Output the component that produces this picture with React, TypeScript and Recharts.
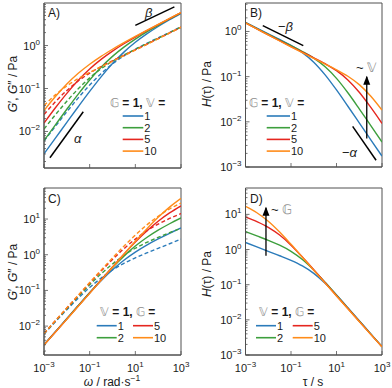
import type { ReactNode } from "react";
import { Line, LineChart, ReferenceArea, ReferenceDot, ReferenceLine, XAxis, YAxis } from "recharts";

const FONT = '"Liberation Sans", Arial, Helvetica, sans-serif';
const INK = "#1a1a1a";
const AXIS = "#505050";
const HOLLOW = "#8c8c8c";
const COLORS = ["#2b7bba", "#3d9f3d", "#e5261f", "#ff8c1a"];

// log10 of angular frequency (A, C) and relaxation time (B, D)
const decades = [-3, -2.5, -2, -1.5, -1, -0.5, 0, 0.5, 1, 1.5, 2, 2.5, 3];
const levels = ["1", "2", "5", "10"];

// A) log10 G' and G'' for G = 1, V = 1, 2, 5, 10
const aStorageV1 = [-2.52, -2.155, -1.789, -1.424, -1.067, -0.728, -0.42, -0.153, 0.075, 0.27, 0.443, 0.601, 0.749];
const aStorageV2 = [-2.212, -1.846, -1.483, -1.13, -0.801, -0.506, -0.252, -0.037, 0.15, 0.317, 0.471, 0.618, 0.759];
const aStorageV5 = [-1.805, -1.449, -1.113, -0.809, -0.546, -0.323, -0.13, 0.041, 0.197, 0.345, 0.488, 0.628, 0.766];
const aStorageV10 = [-1.513, -1.187, -0.896, -0.647, -0.435, -0.251, -0.086, 0.068, 0.214, 0.355, 0.494, 0.631, 0.768];
const aLossV1 = [-2.224, -1.878, -1.541, -1.219, -0.92, -0.654, -0.427, -0.241, -0.087, 0.05, 0.179, 0.307, 0.436];
const aLossV2 = [-1.943, -1.611, -1.296, -1.006, -0.753, -0.541, -0.367, -0.22, -0.087, 0.041, 0.17, 0.299, 0.43];
const aLossV5 = [-1.605, -1.309, -1.047, -0.825, -0.643, -0.491, -0.356, -0.227, -0.099, 0.03, 0.161, 0.293, 0.427];
const aLossV10 = [-1.397, -1.148, -0.94, -0.77, -0.625, -0.493, -0.365, -0.236, -0.106, 0.025, 0.158, 0.292, 0.426];

// B) log10 H(tau) for G = 1, V = 1, 2, 5, 10
const bSpectrumV1 = [0.2, 0.073, -0.053, -0.177, -0.309, -0.468, -0.679, -0.96, -1.294, -1.655, -2.023, -2.392, -2.759];
const bSpectrumV2 = [0.195, 0.064, -0.065, -0.191, -0.316, -0.444, -0.59, -0.781, -1.038, -1.357, -1.712, -2.079, -2.448];
const bSpectrumV5 = [0.191, 0.058, -0.075, -0.205, -0.333, -0.459, -0.583, -0.714, -0.868, -1.073, -1.346, -1.676, -2.035];
const bSpectrumV10 = [0.189, 0.056, -0.078, -0.211, -0.342, -0.471, -0.597, -0.722, -0.849, -0.992, -1.177, -1.427, -1.74];

// C) log10 G' and G'' for V = 1, G = 1, 2, 5, 10
const cStorageG1 = aStorageV1;
const cStorageG2 = [-2.525, -2.162, -1.797, -1.431, -1.065, -0.705, -0.358, -0.039, 0.243, 0.483, 0.689, 0.868, 1.03];
const cStorageG5 = [-2.528, -2.167, -1.805, -1.441, -1.076, -0.71, -0.344, 0.014, 0.355, 0.667, 0.939, 1.171, 1.369];
const cStorageG10 = [-2.529, -2.169, -1.807, -1.445, -1.082, -0.718, -0.352, 0.014, 0.376, 0.724, 1.048, 1.333, 1.578];
const cLossG1 = aLossV1;
const cLossG2 = [-2.214, -1.861, -1.512, -1.172, -0.844, -0.536, -0.258, -0.017, 0.182, 0.345, 0.486, 0.617, 0.745];
const cLossG5 = [-2.207, -1.85, -1.495, -1.143, -0.796, -0.458, -0.134, 0.168, 0.438, 0.669, 0.859, 1.016, 1.154];
const cLossG10 = [-2.205, -1.847, -1.489, -1.133, -0.78, -0.431, -0.089, 0.24, 0.551, 0.833, 1.077, 1.281, 1.447];

// D) log10 H(tau) for V = 1, G = 1, 2, 5, 10
const dSpectrumG1 = bSpectrumV1;
const dSpectrumG2 = [0.512, 0.387, 0.261, 0.123, -0.05, -0.285, -0.586, -0.932, -1.297, -1.667, -2.034, -2.4, -2.764];
const dSpectrumG5 = [0.927, 0.794, 0.631, 0.412, 0.125, -0.213, -0.575, -0.945, -1.313, -1.679, -2.043, -2.406, -2.766];
const dSpectrumG10 = [1.225, 1.047, 0.804, 0.497, 0.148, -0.218, -0.588, -0.955, -1.321, -1.685, -2.047, -2.41, -2.767];

// slope guides and arrows, in data units
const alphaGuideA = [{ x: 10 ** -2.74, y: 10 ** -2.61 }, { x: 10 ** -1.28, y: 10 ** -1.54 }];
const betaGuideA = [{ x: 10 ** 1, y: 10 ** 0.47 }, { x: 10 ** 2.71, y: 10 ** 0.9 }];
const betaGuideB = [{ x: 10 ** -2.24, y: 10 ** 0.13 }, { x: 10 ** -0.46, y: 10 ** -0.315 }];
const alphaGuideB = [{ x: 10 ** 1.71, y: 10 ** -2.1 }, { x: 10 ** 2.74, y: 10 ** -2.85 }];
const arrowB = [{ x: 10 ** 2.33, y: 10 ** -2.37 }, { x: 10 ** 2.33, y: 10 ** -1.0 }];
const arrowD = [{ x: 10 ** -2.1, y: 10 ** -0.18 }, { x: 10 ** -2.1, y: 10 ** 1.19 }];

const toRows = (cols: number[][]) =>
  decades.map((d, i) => {
    const row: Record<string, number> = { x: 10 ** d };
    cols.forEach((c, k) => (row["c" + k] = 10 ** c[i]));
    return row;
  });

const rowsA = toRows([aLossV1, aStorageV1, aLossV2, aStorageV2, aLossV5, aStorageV5, aLossV10, aStorageV10]);
const rowsB = toRows([bSpectrumV1, bSpectrumV2, bSpectrumV5, bSpectrumV10]);
const rowsC = toRows([cLossG1, cStorageG1, cLossG2, cStorageG2, cLossG5, cStorageG5, cLossG10, cStorageG10]);
const rowsD = toRows([dSpectrumG1, dSpectrumG2, dSpectrumG5, dSpectrumG10]);

const pairedSeries = COLORS.flatMap((color, i) => [
  { key: "c" + 2 * i, color, dashed: true },
  { key: "c" + (2 * i + 1), color, dashed: false },
]);
const singleSeries = COLORS.map((color, i) => ({ key: "c" + i, color, dashed: false }));

function logTicks(min: number, max: number) {
  const out: number[] = [];
  for (let d = Math.floor(Math.log10(min)); d <= Math.ceil(Math.log10(max)); d++)
    for (let k = 1; k < 10; k++) {
      const v = k * 10 ** d;
      if (v >= min * 0.999 && v <= max * 1.001) out.push(v);
    }
  return out;
}

const expLabel = (e: number) => (e < 0 ? "\u2212" + -e : String(e));

function YTick(props: any) {
  const { x, y, payload } = props;
  const lg = Math.log10(payload.value);
  const major = Math.abs(lg - Math.round(lg)) < 1e-6;
  return (
    <g>
      <line x1={x} x2={x + (major ? 4 : 2)} y1={y} y2={y} stroke={AXIS} strokeWidth={0.8} />
      {major && (
        <text x={x - 4} y={y + 4} textAnchor="end" fontSize={11} fill={INK} fontFamily={FONT}>
          10<tspan dy={-5} fontSize={8}>{expLabel(Math.round(lg))}</tspan>
        </text>
      )}
    </g>
  );
}

function makeXTick(labels: boolean) {
  return (props: any) => {
    const { x, y, payload } = props;
    const e = Math.round(Math.log10(payload.value));
    return (
      <g>
        <line x1={x} x2={x} y1={y} y2={y - 4} stroke={AXIS} strokeWidth={0.8} />
        {labels && (
          <text x={x} y={y + 17} textAnchor="middle" fontSize={11} fill={INK} fontFamily={FONT}>
            10<tspan dy={-5} fontSize={8}>{expLabel(e)}</tspan>
          </text>
        )}
      </g>
    );
  };
}

type Series = { key: string; color: string; dashed: boolean };

function Panel(props: {
  left: number;
  top: number;
  height: number;
  margin: { top: number; right: number; bottom: number; left: number };
  xHeight: number;
  rows: Record<string, number>[];
  series: Series[];
  yDomain: [number, number];
  xLabels: boolean;
  children?: ReactNode;
}) {
  const { rows, series, yDomain } = props;
  return (
    <div style={{ position: "absolute", left: props.left, top: props.top }}>
      <LineChart width={196} height={props.height} data={rows} margin={props.margin}>
        <XAxis
          dataKey="x"
          type="number"
          scale="log"
          domain={[1e-3, 1e3]}
          allowDataOverflow
          ticks={[1e-3, 1e-1, 1e1, 1e3]}
          interval={0}
          height={props.xHeight}
          tickSize={0}
          tickMargin={0}
          tickLine={false}
          axisLine={{ stroke: AXIS }}
          tick={makeXTick(props.xLabels)}
        />
        <YAxis
          type="number"
          scale="log"
          domain={yDomain}
          allowDataOverflow
          ticks={logTicks(yDomain[0], yDomain[1])}
          interval={0}
          width={40}
          tickSize={0}
          tickMargin={0}
          tickLine={false}
          axisLine={{ stroke: AXIS }}
          tick={<YTick />}
        />
        <ReferenceArea x1={1e-3} x2={1e3} y1={yDomain[0]} y2={yDomain[1]} fill="none" stroke={AXIS} ifOverflow="visible" />
        {series.map((s) => (
          <Line
            key={s.key}
            dataKey={s.key}
            type="monotone"
            stroke={s.color}
            strokeWidth={1.4}
            strokeDasharray={s.dashed ? "4 2.5" : undefined}
            dot={false}
            isAnimationActive={false}
          />
        ))}
        {props.children}
      </LineChart>
    </div>
  );
}

const guide = (seg: { x: number; y: number }[], w = 1.5) => (
  <ReferenceLine segment={seg} stroke="#000" strokeWidth={w} ifOverflow="visible" />
);

const arrowHead = (pt: { x: number; y: number }) => (
  <ReferenceDot
    x={pt.x}
    y={pt.y}
    r={0}
    ifOverflow="visible"
    shape={(p: any) => <path d={`M${p.cx},${p.cy - 1} l-3.5,9 l7,0 z`} fill="#000" />}
  />
);

function Title({ x, y, fixed, varying }: { x: number; y: number; fixed: string; varying: string }) {
  return (
    <text x={x} y={y} fontSize={12} fontFamily={FONT} fill={INK} fontWeight="bold">
      <tspan fill={HOLLOW} fontWeight="normal">{fixed}</tspan> = 1,{" "}
      <tspan fill={HOLLOW} fontWeight="normal">{varying}</tspan> =
    </text>
  );
}

function Swatch({ x1, x2, y, color, label }: { x1: number; x2: number; y: number; color: string; label: string }) {
  return (
    <g>
      <line x1={x1} x2={x2} y1={y} y2={y} stroke={color} strokeWidth={1.6} />
      <text x={x2 + 1} y={y + 4} fontSize={11} fontFamily={FONT} fill={INK}>
        {label}
      </text>
    </g>
  );
}

const G = "\u{1D53E}";
const V = "\u{1D54D}";
const stackRows = [116, 127.7, 139.4, 151.1];
const gridCols = [0, 0, 1, 1];
const gridRows = [325.7, 337.7, 325.7, 337.7];

export default function App() {
  return (
    <div style={{ position: "absolute", left: 0, top: 0, width: 392, height: 388, background: "#fff" }}>
      <Panel left={0} top={0} height={180} margin={{ top: 3, right: 15, bottom: 0, left: 4 }} xHeight={12}
        rows={rowsA} series={pairedSeries} yDomain={[10 ** -2.85, 10 ** 0.99]} xLabels={false}>
        {guide(alphaGuideA)}
        {guide(betaGuideA)}
      </Panel>
      <Panel left={196} top={0} height={180} margin={{ top: 3, right: 10, bottom: 1, left: 9.5 }} xHeight={12}
        rows={rowsB} series={singleSeries} yDomain={[1e-3, 10 ** 0.63]} xLabels={false}>
        {guide(betaGuideB)}
        {guide(alphaGuideB)}
        {guide(arrowB, 1.3)}
        {arrowHead(arrowB[1])}
      </Panel>
      <Panel left={0} top={180} height={208} margin={{ top: 8, right: 15, bottom: 13, left: 4 }} xHeight={20}
        rows={rowsC} series={pairedSeries} yDomain={[10 ** -2.81, 10 ** 1.87]} xLabels />
      <Panel left={196} top={180} height={208} margin={{ top: 8, right: 10, bottom: 13, left: 9.5 }} xHeight={20}
        rows={rowsD} series={singleSeries} yDomain={[1e-3, 10 ** 1.75]} xLabels>
        {guide(arrowD, 1.3)}
        {arrowHead(arrowD[1])}
      </Panel>

      <svg width={392} height={388} style={{ position: "absolute", left: 0, top: 0, pointerEvents: "none" }}>
        <g fontFamily={FONT} fill={INK} fontSize={12}>
          <text x={48} y={17}>A)</text>
          <text x={250} y={17}>B)</text>
          <text x={48} y={203}>C)</text>
          <text x={250} y={203}>D)</text>

          <text x={74} y={143} fontStyle="italic" fontSize={13}>α</text>
          <text x={145} y={17} fontStyle="italic" fontSize={13}>β</text>
          <text x={278} y={31} fontSize={13}>−<tspan fontStyle="italic">β</tspan></text>
          <text x={342} y={157} fontSize={13}>−<tspan fontStyle="italic">α</tspan></text>
          <text x={356} y={72} fontSize={13}>~ <tspan fill={HOLLOW}>{V}</tspan></text>
          <text x={271} y={214} fontSize={13}>~ <tspan fill={HOLLOW}>{G}</tspan></text>

          <text transform="rotate(-90)" x={-84} y={17} textAnchor="middle">
            <tspan fontStyle="italic">G</tspan>′, <tspan fontStyle="italic">G</tspan>″ / Pa
          </text>
          <text transform="rotate(-90)" x={-84} y={211} textAnchor="middle">
            <tspan fontStyle="italic">H</tspan>(τ) / Pa
          </text>
          <text transform="rotate(-90)" x={-272} y={17} textAnchor="middle">
            <tspan fontStyle="italic">G</tspan>′, <tspan fontStyle="italic">G</tspan>″ / Pa
          </text>
          <text transform="rotate(-90)" x={-274} y={211} textAnchor="middle">
            <tspan fontStyle="italic">H</tspan>(τ) / Pa
          </text>
          <text x={112} y={386} textAnchor="middle">
            <tspan fontStyle="italic">ω</tspan> / rad·s<tspan dy={-5} fontSize={8.5}>−1</tspan>
          </text>
          <text x={313} y={386} textAnchor="middle">τ / s</text>
        </g>

        <Title x={110} y={107} fixed={G} varying={V} />
        {levels.map((l, i) => (
          <Swatch key={"a" + l} x1={122.7} x2={143.3} y={stackRows[i]} color={COLORS[i]} label={l} />
        ))}
        <Title x={249} y={107} fixed={G} varying={V} />
        {levels.map((l, i) => (
          <Swatch key={"b" + l} x1={266.7} x2={290} y={stackRows[i]} color={COLORS[i]} label={l} />
        ))}
        <Title x={100} y={316} fixed={V} varying={G} />
        {levels.map((l, i) => (
          <Swatch key={"c" + l} x1={gridCols[i] ? 133 : 96.7} x2={gridCols[i] ? 153 : 116.7} y={gridRows[i === 1 ? 1 : i === 2 ? 0 : i]}
            color={COLORS[i]} label={l} />
        ))}
        <Title x={259} y={316} fixed={V} varying={G} />
        {levels.map((l, i) => (
          <Swatch key={"d" + l} x1={gridCols[i] ? 292.7 : 256} x2={gridCols[i] ? 312.7 : 276} y={gridRows[i === 1 ? 1 : i === 2 ? 0 : i]}
            color={COLORS[i]} label={l} />
        ))}
      </svg>
    </div>
  );
}
